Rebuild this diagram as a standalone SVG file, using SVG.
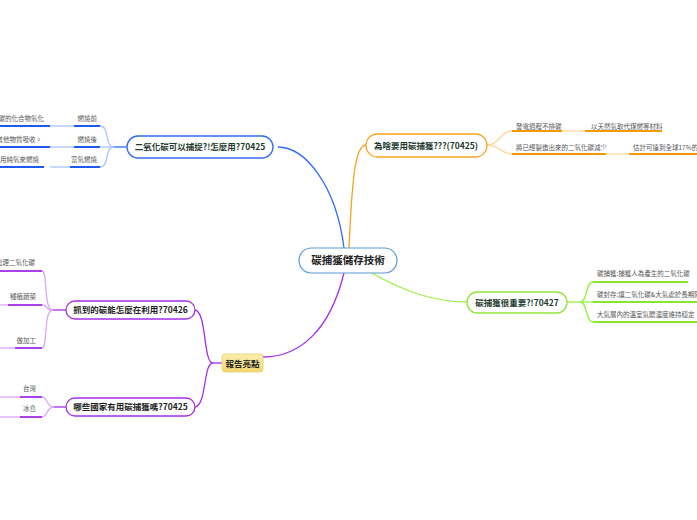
<svg xmlns="http://www.w3.org/2000/svg" width="697" height="520" viewBox="0 0 697 520">
<defs>
<style>
text{font-family:"Noto Sans CJK TC","Noto Sans CJK SC",sans-serif;}
.t{font-size:6.5px;fill:#555;}
.n{font-size:8.5px;font-weight:bold;fill:#1d3a2c;text-anchor:middle;}
.np{font-size:8.5px;font-weight:bold;fill:#222;text-anchor:middle;}
.c{fill:none;}
.ob{stroke:#f7a21b;stroke-width:1.3;}
.ol{stroke:#ffd699;stroke-width:1.3;}
.ou{stroke:#f59a00;stroke-width:2;}
.gb{stroke:#9af044;stroke-width:1.3;}
.gu{stroke:#88e62e;stroke-width:2;}
.bb{stroke:#2f6cf5;stroke-width:1.3;}
.bl{stroke:#a9c3ff;stroke-width:1.3;}
.bu{stroke:#1e5af0;stroke-width:2;}
.pb{stroke:#a52ee8;stroke-width:1.3;}
.pl{stroke:#d9a6ff;stroke-width:1.3;}
.pu{stroke:#a742e8;stroke-width:2;}
</style>
<linearGradient id="yel" x1="0" y1="0" x2="0" y2="1">
<stop offset="0" stop-color="#fbeeb0"/>
<stop offset="1" stop-color="#f0d770"/>
</linearGradient>
</defs>

<g id="connectors">
<!-- main -->
<path class="c bb" d="M344,248 C336,185 305,147 278,147"/>
<path class="c ob" d="M349,248 C352,180 355,145 366,145"/>
<path class="c gb" d="M370,272 C405,292 435,302 467,302"/>
<path class="c pb" d="M344,273 C330,330 300,357 263,357"/>
<!-- orange -->
<path class="c ol" d="M487,145 C500,145 500,131 512,131"/>
<path class="c ol" d="M487,145 C500,145 500,154 512,154"/>
<path class="c ol" d="M562,131 L585,131"/>
<path class="c ol" d="M606,154 L629,154"/>
<!-- green -->
<path class="c gb" d="M567,302 L580,302"/>
<path class="c gb" d="M580,302 C588,302 585,282 593,282"/>
<path class="c gb" d="M580,302 L593,302"/>
<path class="c gb" d="M580,302 C588,302 585,322 593,322"/>
<!-- blue -->
<path class="c bb" d="M127,147 L114,147"/>
<path class="c bl" d="M114,147 C104,147 110,126 100,126"/>
<path class="c bl" d="M114,147 L100,147"/>
<path class="c bl" d="M114,147 C104,147 110,167 100,167"/>
<path class="c bl" d="M50,126 L74,126"/>
<path class="c bl" d="M50,147 L74,147"/>
<path class="c bl" d="M50,167 L70,167"/>
<!-- purple -->
<path class="c pb" d="M222,363 L213,363"/>
<path class="c pb" d="M213,363 C203,363 207,312 195,310"/>
<path class="c pb" d="M213,363 C203,363 207,405 195,407"/>
<path class="c pb" d="M66,310 L53,310"/>
<path class="c pl" d="M53,310 C43,310 48,271 42,271"/>
<path class="c pl" d="M53,310 C45,310 48,305 42,305"/>
<path class="c pl" d="M53,310 C43,310 48,348 42,348"/>
<path class="c pl" d="M0,305 L8,305"/>
<path class="c pl" d="M0,348 L15,348"/>
<path class="c pl" d="M-6,348 C2,348 0,355 -6,356"/>
<path class="c pb" d="M66,407 L54,407"/>
<path class="c pl" d="M54,407 C46,407 48,397 42,397"/>
<path class="c pl" d="M54,407 C46,407 48,417 42,417"/>
<path class="c pl" d="M0,397 L20,397"/>
<path class="c pl" d="M0,417 L20,417"/>
</g>

<g id="center">
<rect x="299" y="248" width="98" height="25" rx="12.5" fill="#fff" stroke="#5b9bd5" stroke-width="1.2"/>
<text x="348" y="264" font-size="10.5" font-weight="bold" fill="#222" text-anchor="middle">碳捕獲儲存技術</text>
</g>

<g id="node-why">
<rect x="366" y="134" width="121" height="23" rx="11.5" fill="#fff" stroke="#f7a21b" stroke-width="1.3"/>
<text class="n" x="426" y="148.5">為啥要用碳捕獲???(70425)</text>
</g>
<g id="why-1">
<text class="t" x="516" y="128.5">發電過程不排碳</text>
<line class="ou" x1="512" y1="131" x2="562" y2="131"/>
</g>
<g id="why-1a">
<text class="t" x="591" y="128.5">以天然氣取代煤燃等材料</text>
<line class="ou" x1="585" y1="131" x2="662" y2="131"/>
</g>
<g id="why-2">
<text class="t" x="516" y="149.5">將已經製造出來的二氧化碳減少</text>
<line class="ou" x1="512" y1="154" x2="606" y2="154"/>
</g>
<g id="why-2a">
<text class="t" x="633" y="149.5">估計可達到全球17%的減</text>
<line class="ou" x1="629" y1="154" x2="700" y2="154"/>
</g>

<g id="node-important">
<rect x="467" y="292" width="100" height="21" rx="10.5" fill="#fff" stroke="#8fe63a" stroke-width="1.3"/>
<text class="n" x="517" y="305.5">碳捕獲很重要?!70427</text>
</g>
<g id="imp-1">
<text class="t" x="597" y="276">碳捕獲:捕獲人為產生的二氧化碳</text>
<line class="gu" x1="593" y1="282" x2="688" y2="282"/>
</g>
<g id="imp-2">
<text class="t" x="597" y="297">碳封存:讓二氧化碳&amp;大氣處於長期隔絕</text>
<line class="gu" x1="593" y1="302" x2="700" y2="302"/>
</g>
<g id="imp-3">
<text class="t" x="597" y="317">大氣層內的溫室氣體濃度維持穩定，降低</text>
<line class="gu" x1="593" y1="322" x2="700" y2="322"/>
</g>

<g id="node-capture">
<rect x="127" y="136" width="146" height="22" rx="11" fill="#fff" stroke="#2f6cf5" stroke-width="1.3"/>
<text class="n" x="200" y="150">二氧化碳可以捕捉?!怎麼用?70425</text>
</g>
<g id="cap-1">
<text class="t" x="97" y="121" text-anchor="end">燃燒前</text>
<line class="bu" x1="74" y1="126" x2="100" y2="126"/>
</g>
<g id="cap-1a">
<text class="t" x="44" y="121" text-anchor="end">含碳的化合物氧化</text>
<line class="bu" x1="-2" y1="126" x2="50" y2="126"/>
</g>
<g id="cap-2">
<text class="t" x="97" y="141.5" text-anchor="end">燃燒後</text>
<line class="bu" x1="74" y1="147" x2="100" y2="147"/>
</g>
<g id="cap-2a">
<text class="t" x="42" y="141.5" text-anchor="end">被其他物質吸收。</text>
<line class="bu" x1="-2" y1="147" x2="50" y2="147"/>
</g>
<g id="cap-3">
<text class="t" x="97" y="161.5" text-anchor="end">富氧燃燒</text>
<line class="bu" x1="70" y1="167" x2="100" y2="167"/>
</g>
<g id="cap-3a">
<text class="t" x="39" y="161.5" text-anchor="end">使用純氧來燃燒</text>
<line class="bu" x1="-2" y1="167" x2="44" y2="167"/>
</g>

<g id="node-highlight">
<rect x="222" y="354" width="41" height="18" rx="3" fill="url(#yel)" stroke="#e6cf6a" stroke-width="0.8"/>
<text x="242.5" y="366.5" font-size="8.5" font-weight="bold" fill="#222" text-anchor="middle">報告亮點</text>
</g>

<g id="node-use">
<rect x="66" y="301" width="129" height="18" rx="9" fill="#fff" stroke="#a52ee8" stroke-width="1.3"/>
<text class="np" x="130.5" y="313">抓到的碳能怎麼在利用?70426</text>
</g>
<g id="use-1">
<text class="t" x="35" y="265" text-anchor="end">處理二氧化碳</text>
<line class="pu" x1="-2" y1="271" x2="42" y2="271"/>
</g>
<g id="use-2">
<text class="t" x="36" y="299" text-anchor="end">種植蔬菜</text>
<line class="pu" x1="8" y1="305" x2="42" y2="305"/>
</g>
<g id="use-3">
<text class="t" x="36" y="343" text-anchor="end">做加工</text>
<line class="pu" x1="15" y1="348" x2="42" y2="348"/>
</g>

<g id="node-country">
<rect x="66" y="398" width="129" height="18" rx="9" fill="#fff" stroke="#a52ee8" stroke-width="1.3"/>
<text class="np" x="130.5" y="410">哪些國家有用碳捕獲嗎?70425</text>
</g>
<g id="country-1">
<text class="t" x="36" y="391" text-anchor="end">台灣</text>
<line class="pu" x1="20" y1="397" x2="42" y2="397"/>
</g>
<g id="country-2">
<text class="t" x="36" y="411" text-anchor="end">冰島</text>
<line class="pu" x1="20" y1="417" x2="42" y2="417"/>
</g>
</svg>
